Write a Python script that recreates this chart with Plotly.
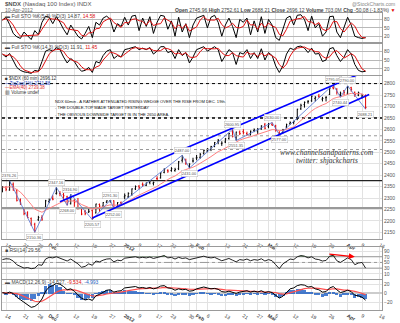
import plotly.graph_objects as go
import pandas as pd
import numpy as np

# ---------------- trading calendar ----------------
holidays = ["2011-11-24", "2011-12-26", "2012-01-02", "2012-01-16", "2012-02-20", "2012-04-06"]
cal = [d.strftime("%Y-%m-%d") for d in pd.bdate_range("2011-11-11", "2012-04-16")
       if d.strftime("%Y-%m-%d") not in holidays]

# ---------------- price data ----------------
opens = [2330, 2345, 2335, 2360, 2335, 2292, 2255, 2235, 2210, 2185, 2205, 2215, 2260,
         2285, 2298, 2320, 2320, 2315, 2305, 2275, 2290, 2282, 2255, 2240, 2238, 2245, 2235, 2272, 2265, 2282, 2288, 2288, 2262, 2280,
         2305, 2305, 2318, 2340, 2352, 2360, 2355, 2368, 2365, 2385, 2388, 2412, 2420, 2420, 2420, 2428, 2465, 2465, 2440, 2462,
         2475, 2478, 2495, 2505, 2512, 2528, 2545, 2538, 2545, 2560, 2590, 2565, 2588, 2590, 2582, 2580, 2595, 2590, 2602, 2620,
         2612, 2622, 2615, 2585, 2585, 2610, 2625, 2630, 2645, 2690, 2708, 2720, 2725, 2735, 2745, 2732, 2738, 2752, 2782, 2775, 2752, 2768,
         2758, 2782, 2762, 2750, 2740, 2745.96]
highs = [2352, 2352, 2376.26, 2368, 2340, 2298, 2258, 2242, 2215, 2192, 2222, 2225, 2292,
         2298, 2312, 2347.16, 2330, 2322, 2310, 2316.90, 2295, 2300, 2260, 2248, 2260, 2250, 2275, 2276, 2282, 2290, 2291.30, 2290, 2282, 2285,
         2320, 2325, 2342, 2355, 2356, 2368, 2368, 2378, 2372, 2395, 2412, 2430, 2426, 2435, 2432, 2462, 2487, 2472, 2452, 2476,
         2488, 2497, 2512, 2518, 2528, 2545, 2558, 2548, 2562, 2585, 2600.95, 2590, 2595, 2601, 2590, 2595, 2604, 2606, 2618, 2628,
         2628, 2630, 2620, 2592, 2602, 2625, 2635, 2638, 2690, 2712, 2722, 2728, 2748, 2745, 2755, 2742, 2745, 2782, 2795.05, 2780, 2765, 2772,
         2790, 2786, 2765, 2765, 2755, 2752.61]
lows = [2325, 2330, 2332, 2332, 2285, 2270, 2225, 2212, 2178, 2150.36, 2200, 2200, 2258,
        2278, 2290, 2315, 2308, 2290, 2268, 2272, 2262, 2250, 2225, 2225, 2235, 2205.57, 2233, 2240, 2262, 2278, 2280, 2252, 2258, 2270,
        2295, 2300, 2310, 2335, 2338, 2350, 2352, 2360, 2355, 2378, 2385, 2408, 2410, 2415, 2415, 2422, 2455, 2445, 2431, 2455,
        2465, 2472, 2490, 2500, 2505, 2522, 2535, 2528, 2540, 2555, 2565, 2551.35, 2575, 2578, 2572, 2572, 2588, 2580, 2598, 2600,
        2605, 2615, 2590, 2577, 2582, 2605, 2620, 2622, 2640, 2685, 2695, 2712, 2720, 2722, 2738, 2722, 2722, 2750, 2775, 2752, 2740.44, 2750,
        2752, 2765, 2742, 2745, 2735, 2688.21]
closes = [2348, 2338, 2365, 2335, 2290, 2278, 2232, 2215, 2182, 2158, 2215, 2208, 2288,
          2290, 2295, 2322, 2318, 2310, 2272, 2305, 2280, 2258, 2230, 2232, 2242, 2212, 2274, 2265, 2280, 2288, 2289, 2258, 2280, 2275,
          2310, 2320, 2340, 2350, 2345, 2358, 2365, 2375, 2368, 2384, 2410, 2425, 2418, 2428, 2425, 2458, 2470, 2450, 2448, 2462,
          2476, 2490, 2508, 2515, 2525, 2542, 2552, 2540, 2558, 2582, 2570, 2588, 2582, 2586, 2578, 2592, 2598, 2600, 2615, 2605,
          2622, 2618, 2595, 2580, 2598, 2620, 2630, 2634, 2688, 2705, 2718, 2722, 2745, 2740, 2742, 2735, 2740, 2780, 2778, 2762, 2758, 2762,
          2785, 2775, 2752, 2760, 2746.2, 2696.12]

# zigzag pivots (trading-day index, price)
zz_idx = [2, 9, 15, 18, 19, 25, 30, 31, 50, 52, 64, 65, 75, 77, 92, 94, 96, 101]
zz_val = [2376.26, 2150.36, 2347.16, 2268.00, 2316.90, 2205.57, 2291.30, 2252.00, 2487.00, 2431.00,
          2600.95, 2551.35, 2630.00, 2577.00, 2795.05, 2740.44, 2790.00, 2688.21]

# channel trendlines (index, price)
chan_up_x = [16, 99.5]
chan_up_y = [2283.9, 2843.4]
chan_lo_x = [25, 102]
chan_lo_y = [2213.0, 2752.0]

# horizontal drawn levels
hl_levels = [2800, 2650, 2572, 2512, 2376.26, 2256]

# ---------------- indicator panels ----------------
sto1_k = [78, 88, 62, 30, 18, 12, 35, 22, 8, 40, 25, 70, 92,
          88, 65, 90, 70, 45, 25, 60, 40, 20, 10, 30, 55, 15, 70, 60, 85, 92, 80, 35, 65, 55,
          88, 60, 92, 95, 40, 85, 55, 90, 30, 70, 95, 92, 45, 75, 20, 88, 35, 65, 15, 60,
          85, 90, 95, 50, 88, 95, 70, 20, 60, 85, 55, 15, 80, 70, 85, 25, 75, 35, 90, 30,
          80, 60, 15, 5, 45, 85, 92, 60, 95, 97, 80, 40, 92, 50, 65, 20, 35, 90, 92, 35, 15, 55,
          88, 60, 20, 15, 12, 15]
sto2_k = [70, 60, 72, 50, 25, 15, 10, 8, 5, 15, 12, 45, 80,
          85, 80, 92, 85, 60, 40, 55, 45, 25, 12, 15, 25, 8, 45, 40, 65, 80, 85, 55, 65, 60,
          85, 88, 92, 95, 85, 90, 85, 92, 70, 80, 95, 95, 75, 80, 55, 85, 65, 75, 40, 60,
          85, 90, 95, 80, 88, 95, 85, 45, 65, 85, 75, 35, 75, 70, 85, 55, 75, 55, 88, 50,
          75, 65, 30, 8, 30, 70, 90, 85, 95, 97, 90, 75, 90, 70, 72, 45, 50, 88, 92, 65, 45, 60,
          85, 70, 35, 15, 10, 12]
rsi_vals = [60, 63, 62, 55, 42, 35, 30, 32, 28, 30, 42, 40, 62,
            68, 66, 70, 65, 62, 55, 62, 55, 45, 33, 36, 45, 40, 55, 52, 58, 62, 63, 52, 58, 56,
            65, 66, 68, 70, 66, 68, 66, 69, 64, 68, 72, 74, 66, 68, 62, 68, 64, 66, 60, 63,
            67, 70, 72, 68, 66, 68, 62, 56, 60, 64, 58, 52, 60, 58, 62, 56, 60, 58, 63, 55,
            60, 56, 42, 28, 45, 55, 62, 60, 70, 74, 72, 66, 70, 62, 60, 55, 57, 72, 75, 56, 50, 58,
            66, 60, 42, 48, 50, 30]
macd_vals = [2, 0, 3, 0, -8, -14, -20, -24, -30, -28, -22, -12, 5,
             14, 17, 22, 20, 15, 8, 10, 5, -3, -10, -14, -12, -15, -5, -2, 3, 7, 8, 3, 5, 6,
             12, 13, 15, 15, 12, 13, 11, 13, 10, 12, 16, 17, 12, 11, 7, 10, 8, 9, 5, 6,
             10, 12, 14, 12, 10, 11, 9, 4, 3, 5, 3, 0, 3, 4, 6, 3, 5, 3, 6, 2,
             4, 2, -4, -10, -6, 2, 10, 12, 17, 19, 18, 14, 15, 10, 8, 3, 4, 12, 15, 8, 2, 4,
             7, 4, -4, -5, -8, -14.5]
rsi_arrow_x = [90.5, 98]
rsi_arrow_y = [80, 70]

# x-axis ticks
tick_dates = ["2011-11-14", "2011-11-21", "2011-11-28", "2011-12-01", "2011-12-05", "2011-12-12",
              "2011-12-19", "2011-12-27", "2012-01-03", "2012-01-09", "2012-01-17", "2012-01-23",
              "2012-01-30", "2012-02-01", "2012-02-06", "2012-02-13", "2012-02-21", "2012-02-27",
              "2012-03-01", "2012-03-05", "2012-03-12", "2012-03-19", "2012-03-26", "2012-04-02",
              "2012-04-09", "2012-04-16"]
tick_labels = ["14", "21", "28", "<b>Dec</b>", "5", "12", "19", "27", "<b>2012</b>", "9", "17", "23",
               "30", "<b>Feb</b>", "6", "13", "21", "27", "<b>Mar</b>", "5", "12", "19", "26", "<b>Apr</b>",
               "9", "16"]
price_ticks = list(range(2150, 2801, 50))

# ---------------- derived ----------------
n = len(closes)
xi = list(range(n))
tickvals = [cal.index(d) for d in tick_dates]
ema = pd.Series(closes).ewm(span=10, adjust=False).mean()
sto1_d = pd.Series(sto1_k).rolling(3, min_periods=1).mean()
sto2_d = pd.Series(sto2_k).rolling(3, min_periods=1).mean()
macd_sig = pd.Series(macd_vals).ewm(span=9, adjust=False).mean()
macd_hist = pd.Series(macd_vals) - macd_sig

# ---------------- layout helpers ----------------
W, H = 400, 323
ML, MR = 2, 18
PW = W - ML - MR
def px(x):
    return (x - ML) / PW
def py(y):
    return 1 - y / H

XR = [-0.12, 105.56]
FONT = "Liberation Sans, Arial, sans-serif"
panels = {1: (13, 43), 2: (45, 76), 3: (77, 243), 4: (251, 283), 5: (284, 315)}

fig = go.Figure()

# panel 1 & 2 stochastics
fig.add_trace(go.Scatter(x=xi, y=sto1_k, mode="lines", line=dict(color="black", width=1), xaxis="x", yaxis="y"))
fig.add_trace(go.Scatter(x=xi, y=sto1_d, mode="lines", line=dict(color="#e01010", width=1), xaxis="x", yaxis="y"))
fig.add_trace(go.Scatter(x=xi, y=sto2_k, mode="lines", line=dict(color="black", width=1), xaxis="x2", yaxis="y2"))
fig.add_trace(go.Scatter(x=xi, y=sto2_d, mode="lines", line=dict(color="#e01010", width=1), xaxis="x2", yaxis="y2"))

# main panel
for lv, col, dash, wd in zip(hl_levels, ["black", "black", "#999", "#999", "#222", "#999"],
                             ["dot", "dot", "dot", "dot", "solid", "solid"], [1, 1.5, 1, 1, 1.3, 2]):
    fig.add_trace(go.Scatter(x=XR, y=[lv, lv], mode="lines", line=dict(color=col, dash=dash, width=wd),
                             xaxis="x3", yaxis="y3"))
fig.add_trace(go.Scatter(x=xi, y=ema, mode="lines", line=dict(color="#ff8080", width=1), xaxis="x3", yaxis="y3"))
fig.add_trace(go.Scatter(x=zz_idx, y=zz_val, mode="lines", line=dict(color="#5070d0", width=0.8), xaxis="x3", yaxis="y3"))
fig.add_trace(go.Ohlc(x=xi, open=opens, high=highs, low=lows, close=closes, tickwidth=0.25,
                      increasing=dict(line=dict(color="black", width=1)),
                      decreasing=dict(line=dict(color="#e00000", width=1)),
                      xaxis="x3", yaxis="y3"))
fig.add_trace(go.Scatter(x=chan_up_x, y=chan_up_y, mode="lines", line=dict(color="#0000ff", width=1.6), xaxis="x3", yaxis="y3"))
fig.add_trace(go.Scatter(x=chan_lo_x, y=chan_lo_y, mode="lines", line=dict(color="#0000ff", width=1.6), xaxis="x3", yaxis="y3"))

# RSI
rsi = np.array(rsi_vals, dtype=float)
fig.add_trace(go.Scatter(x=xi, y=[70] * n, mode="lines", line=dict(color="rgba(0,0,0,0)", width=0), xaxis="x4", yaxis="y4"))
fig.add_trace(go.Scatter(x=xi, y=np.maximum(rsi, 70), mode="lines", line=dict(width=0), fill="tonexty",
                         fillcolor="#3c8c3c", xaxis="x4", yaxis="y4"))
fig.add_trace(go.Scatter(x=xi, y=[30] * n, mode="lines", line=dict(color="rgba(0,0,0,0)", width=0), xaxis="x4", yaxis="y4"))
fig.add_trace(go.Scatter(x=xi, y=np.minimum(rsi, 30), mode="lines", line=dict(width=0), fill="tonexty",
                         fillcolor="#d04040", xaxis="x4", yaxis="y4"))
for lv, col, dash in [(70, "#888", "solid"), (30, "#888", "solid"), (50, "#888", "dashdot")]:
    fig.add_trace(go.Scatter(x=XR, y=[lv, lv], mode="lines", line=dict(color=col, width=0.8, dash=dash),
                             xaxis="x4", yaxis="y4"))
fig.add_trace(go.Scatter(x=xi, y=rsi, mode="lines", line=dict(color="#222", width=1), xaxis="x4", yaxis="y4"))

# MACD
fig.add_trace(go.Bar(x=xi, y=macd_hist, marker=dict(color="#2a68c8", line=dict(width=0)), width=0.9,
                     opacity=0.85, xaxis="x5", yaxis="y5"))
fig.add_trace(go.Scatter(x=xi, y=macd_sig, mode="lines", line=dict(color="#ff5050", width=1.2), xaxis="x5", yaxis="y5"))
fig.add_trace(go.Scatter(x=xi, y=macd_vals, mode="lines", line=dict(color="black", width=1), xaxis="x5", yaxis="y5"))

# ---------------- axes ----------------
lay = dict(width=W, height=H, margin=dict(l=ML, r=MR, t=0, b=0), paper_bgcolor="white",
           plot_bgcolor="white", showlegend=False, bargap=0, font=dict(family=FONT, size=5, color="#444"))
yranges = {1: [-2, 104], 2: [0, 103], 3: [2120, 2834], 4: [-7, 104], 5: [-36, 30]}
yticks = {1: [20, 50, 80], 2: [20, 50, 80], 3: price_ticks, 4: [10, 30, 50, 70, 90], 5: [-20, 0, 20]}
for k, (top, bot) in panels.items():
    xs = "" if k == 1 else str(k)
    lay["xaxis" + xs] = dict(domain=[0, 1], anchor="y" + xs, range=XR, tickvals=tickvals, ticktext=tick_labels,
                             showticklabels=k in (3, 5), showgrid=True, gridcolor="#e2e2e2", gridwidth=1,
                             zeroline=False, showline=True, mirror=True, linecolor="#9a9a9a", linewidth=1,
                             ticks="", tickfont=dict(size=5, color="#333"), rangeslider=dict(visible=False),
                             fixedrange=True)
    lay["yaxis" + xs] = dict(domain=[py(bot), py(top)], anchor="x" + xs, range=yranges[k], side="right",
                             tickvals=yticks[k], showgrid=True, gridcolor="#e2e2e2", zeroline=False,
                             showline=True, mirror=True, linecolor="#9a9a9a", linewidth=1, ticks="",
                             tickfont=dict(size=5, color="#555"), fixedrange=True)
lay["yaxis"]["gridcolor"] = "#b8b8b8"
lay["yaxis2"]["gridcolor"] = "#b8b8b8"
lay["yaxis5"]["zeroline"] = True
lay["yaxis5"]["zerolinecolor"] = "#cccccc"
fig.update_layout(**lay)

# ---------------- text ----------------
ann = []
def txt(x, y, s, size=5, color="#333", xanchor="left", **kw):
    ann.append(dict(xref="paper", yref="paper", x=px(x), y=py(y), text=s, showarrow=False,
                    xanchor=xanchor, yanchor="middle", font=dict(size=size, color=color, family=kw.pop("family", FONT)), **kw))

txt(3, 4, "<b>$NDX</b> (Nasdaq 100 Index) INDX", size=6, color="#555")
txt(3, 10, "10-Apr-2012", size=5, color="#666")
txt(397, 4, "@StockCharts.com", size=5, color="#888", xanchor="right")
txt(397, 10, "<b>Open</b> 2745.96 <b>High</b> 2752.61 <b>Low</b> 2688.21 <b>Close</b> 2696.12 "
             "<b>Volume</b> 703.0M <b>Chg</b> -50.08 (-1.83%) <span style='color:#e00000'>▼</span>",
    size=5, color="#444", xanchor="right")
txt(3, 16, "▬ Full STO %K(5,3) %D(3) 14.87, <span style='color:#e01010'>14.58</span>", size=5, color="#444")
txt(3, 48, "▬ Full STO %K(14,3) %D(3) 11.91, <span style='color:#e01010'>11.45</span>", size=5, color="#444")
txt(3, 80, "■ $NDX (60 min) 2696.12", size=4.5, color="#333")
txt(3, 84.5, "<span style='color:#2040c0'>—ZigZag(1%) 2711.58</span>", size=4.5)
txt(3, 89, "<span style='color:#e03030'>—EMA(40) 2739.38</span>", size=4.5)
txt(3, 93.5, "▥ Volume undef", size=4.5, color="#333")
txt(53, 103, "NDX 60min - A RATHER ATTENUATED RISING WEDGE OVER THE RISE FROM DEC. 19th.", size=4.1, color="#111")
txt(53, 109.5, "- THE DOUBLE-TOP MADE TARGET YESTERDAY", size=4.1, color="#111")
txt(53, 116, "- THE OBVIOUS DOWNSIDE TARGET IS IN THE 2650 AREA.", size=4.1, color="#111")
txt(327, 154.5, "<i>www.channelsandpatterns.com</i>", size=7.5, color="#333", xanchor="center",
    family="Liberation Serif, DejaVu Serif, serif")
txt(327, 163.5, "<i>twitter: shjackcharts</i>", size=7.5, color="#333", xanchor="center",
    family="Liberation Serif, DejaVu Serif, serif")
txt(3, 253.5, "■ RSI(14) 29.56", size=5, color="#444")
txt(3, 286.5, "▬ MACD(12,26,9) -14.527, <span style='color:#e01010'>-9.534</span>, "
              "<span style='color:#1f5fbf'>-4.993</span>", size=5, color="#444")

# zigzag labels
for i, (zx, zv) in enumerate(zip(zz_idx, zz_val)):
    is_high = (i % 2 == 0)
    ann.append(dict(xref="x3", yref="y3", x=zx, y=zv, text=f"{zv:.2f}", showarrow=False,
                    yshift=5 if is_high else -5, font=dict(size=4, color="#555", family=FONT),
                    bgcolor="white", bordercolor="#bdbdbd", borderwidth=0.5, borderpad=0.3))

# RSI divergence arrow
ann.append(dict(xref="x4", yref="y4", axref="x4", ayref="y4", x=rsi_arrow_x[1], y=rsi_arrow_y[1],
                ax=rsi_arrow_x[0], ay=rsi_arrow_y[0], showarrow=True, arrowhead=2, arrowsize=1,
                arrowwidth=1.2, arrowcolor="#ff0000", text=""))
fig.update_layout(annotations=ann)

fig.write_html("out.html")
